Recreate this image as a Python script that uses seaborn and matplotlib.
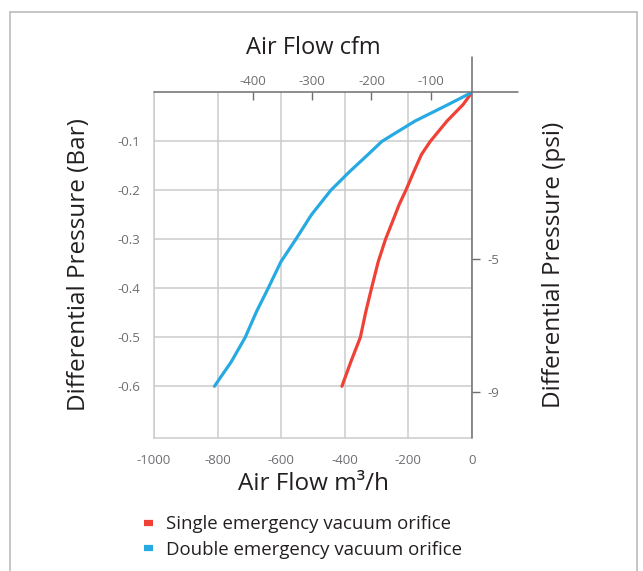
import matplotlib
matplotlib.use("Agg")
import matplotlib.pyplot as plt
from matplotlib.lines import Line2D
from matplotlib.patches import Rectangle
import seaborn as sns
import pandas as pd

# data
single_pressure = [0, -0.025, -0.059, -0.1, -0.127, -0.162, -0.2, -0.229, -0.264, -0.3,
                   -0.346, -0.4, -0.448, -0.5, -0.55, -0.6]
single_flow = [0, -28, -79, -131, -159, -183, -208, -229, -250, -272,
               -295, -316, -334, -351, -381, -409]
double_pressure = [0, -0.025, -0.059, -0.1, -0.127, -0.162, -0.2, -0.25, -0.3,
                   -0.346, -0.4, -0.448, -0.5, -0.55, -0.6]
double_flow = [0, -75, -180, -283, -327, -385, -444, -505, -554,
               -601, -641, -678, -713, -757, -810]

series_names = ["Single emergency vacuum orifice", "Double emergency vacuum orifice"]
series_colors = ["#ef4136", "#27aae1"]

x_ticks = [-1000, -800, -600, -400, -200, 0]
y_ticks = [-0.1, -0.2, -0.3, -0.4, -0.5, -0.6]
cfm_ticks = [-400, -300, -200, -100]
psi_ticks = [-5, -9]

# scale of the cfm axis as drawn in the original
CFM_SCALE = 1.862
CFM_OFFSET = 56.2
PSI_PER_BAR = 14.7

df = pd.concat([
    pd.DataFrame({"flow": single_flow, "pressure": single_pressure, "series": series_names[0]}),
    pd.DataFrame({"flow": double_flow, "pressure": double_pressure, "series": series_names[1]}),
])

sns.set_style("white")
plt.rcParams["font.family"] = ["Open Sans", "DejaVu Sans"]

fig = plt.figure(figsize=(6.43, 5.71), dpi=100)
ax = fig.add_axes([154 / 643, 1 - 437.7 / 571, 318 / 643, 345.4 / 571])

sns.lineplot(data=df, x="flow", y="pressure", hue="series", palette=series_colors,
             sort=False, estimator=None, linewidth=2.3, legend=False, ax=ax, zorder=5)

ax.set_xlim(-1000, 0)
ax.set_ylim(-0.705, 0)
ax.set_xticks(x_ticks)
ax.set_xticklabels([str(v) for v in x_ticks])
ax.set_yticks(y_ticks)
ax.set_yticklabels([f"{v:.1f}" for v in y_ticks])
ax.grid(True, color="#cccccc", linewidth=1.1)
ax.set_axisbelow(True)

for side in ["top", "right"]:
    ax.spines[side].set_visible(False)
for side in ["left", "bottom"]:
    ax.spines[side].set_color("#cccccc")
    ax.spines[side].set_linewidth(1.1)

ax.tick_params(axis="x", color="#999999", labelsize=9.5, length=6, width=1, direction="out",
               pad=6, labelcolor="#6d6e71")
ax.tick_params(axis="y", labelsize=9.5, length=0, pad=10, labelcolor="#6d6e71")

# the crossing axis lines through the origin
ax.axhline(0, xmin=0, xmax=(518 - 154) / 318, color="#6d6e71", linewidth=1.1, clip_on=False, zorder=6)
ax.axvline(0, ymin=0, ymax=(437.7 - 57) / 345.4, color="#6d6e71", linewidth=1.1, clip_on=False, zorder=6)

ax.set_xlabel("Air Flow m³/h", fontsize=17.5, color="#231f20", labelpad=3)
ax.set_ylabel("Differential Pressure (Bar)", fontsize=17.5, color="#231f20", labelpad=19)

# top cfm axis
top = ax.secondary_xaxis("top", functions=(lambda m: (m - CFM_OFFSET) / CFM_SCALE,
                                           lambda c: c * CFM_SCALE + CFM_OFFSET))
top.set_xticks(cfm_ticks)
top.set_xticklabels([str(v) for v in cfm_ticks])
top.spines["top"].set_visible(False)
top.tick_params(axis="x", direction="in", length=6, width=1, color="#6d6e71",
                labelsize=9.5, labelcolor="#6d6e71", pad=3)
top.set_xlabel("Air Flow cfm", fontsize=17, color="#231f20", labelpad=15)

# right psi axis
right = ax.secondary_yaxis("right", functions=(lambda b: b * PSI_PER_BAR,
                                               lambda p: p / PSI_PER_BAR))
right.set_yticks(psi_ticks)
right.set_yticklabels([str(v) for v in psi_ticks])
right.spines["right"].set_visible(False)
right.tick_params(axis="y", direction="out", length=6, width=1, color="#6d6e71",
                  labelsize=9.5, labelcolor="#6d6e71", pad=5)
right.set_ylabel("Differential Pressure (psi)", fontsize=17.5, color="#231f20", labelpad=31)

handles = [Line2D([0], [0], color=c, linewidth=4.5, solid_capstyle="butt") for c in series_colors]
fig.legend(handles, series_names, loc="upper left", bbox_to_anchor=(131 / 643, 1 - 502 / 571),
           frameon=False, fontsize=13.4, handlelength=0.5, handletextpad=0.7,
           labelspacing=0.42, labelcolor="#231f20", borderpad=0.2)

fig.patches.append(Rectangle((10 / 643, -0.02), 627 / 643, 1 - 12 / 571 + 0.02,
                             transform=fig.transFigure, fill=False,
                             edgecolor="#bbbbbb", linewidth=1.2))

fig.savefig("out.png", dpi=100)
